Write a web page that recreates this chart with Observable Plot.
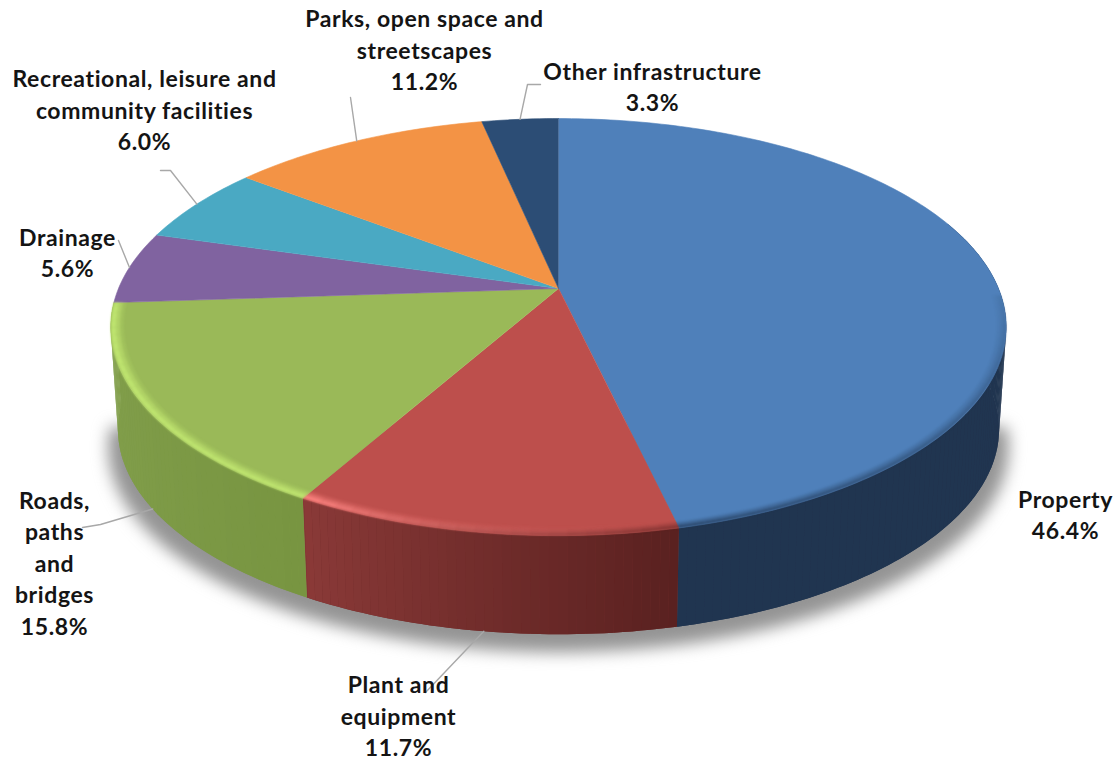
<!DOCTYPE html>
<html>
<head>
<meta charset="utf-8">
<style>
  html, body { margin: 0; padding: 0; background: #fff; overflow: hidden; }
  svg { display: block; }
</style>
<script src="https://cdn.jsdelivr.net/npm/d3@7"></script>
<script src="https://cdn.jsdelivr.net/npm/@observablehq/plot@0.6"></script>
</head>
<body>
<div id="chart"></div>
<script>
// Asset categories and their share of the total, clockwise from twelve o'clock.
const categories = [
  "Property", "Plant and equipment", "Roads, paths and bridges", "Drainage",
  "Recreational, leisure and community facilities",
  "Parks, open space and streetscapes", "Other infrastructure"
];
const shares = [46.4, 11.7, 15.8, 5.6, 6.0, 11.2, 3.3];
const labelLines = [
  ["Property"], ["Plant and", "equipment"], ["Roads,", "paths", "and", "bridges"], ["Drainage"],
  ["Recreational, leisure and", "community facilities"],
  ["Parks, open space and", "streetscapes"], ["Other infrastructure"]
];

// Slice colours: top face, then the wall at the left and right end of each slice.
const faceColors = ["#4f80ba", "#bd4f4c", "#9ab958", "#8063a0", "#4aa9c3", "#f39345", "#2c4d75"];
const wallColors = [
  ["#203550", "#1f3450"], ["#8b3a38", "#5a2120"], ["#84a14e", "#789541"], ["#6a5288"],
  ["#3a8aa0"], ["#c07030"], ["#203a5a"]
];

// Bevel along the front rim: colour, strength at each slice end, first visible degree.
const rimLight = { 1: ["#ff8582", 0, 1, 0], 2: ["#bfe570", 1, 1, 0] };
const rimShade = { 0: ["#1f3450", 0.15, 1, 92], 1: ["#5a2120", 0.8, 0, 0] };

// Layout of the text and the leader lines.
const labelPlace = [[1065, 513], [398, 714], [54, 561], [67, 251], [144, 108], [424, 48], [652, 85]];
const leaderBends = {
  1: { wall: true, via: [[425, 692]] },
  2: { wall: true, via: [[100, 524], [82, 527]] },
  3: { via: [[118, 240]] },
  4: { via: [[170, 170], [160, 170]] },
  5: { via: [[350, 97]] },
  6: { via: [[527, 84], [540, 84]] }
};

// Projection of the tilted disc: a circle seen in perspective, with the lower
// face shifted down and pulled slightly towards the vanishing point.
const view = { cx: 558, cy: 288, a: 440, b: 201.4, k: 0.185, shrink: 0.984, vanishY: 6700 };
const rad = d3.scaleLinear([0, 360], [0, 2 * Math.PI]);

function onTop(deg, r = 1) {
  const s = Math.sin(rad(deg)), c = Math.cos(rad(deg)), w = 1 + view.k * r * c;
  return [view.cx + view.a * r * s / w, view.cy - view.b * r * c / w];
}
function onBottom(deg) {
  const [x, y] = onTop(deg);
  return [view.cx + view.shrink * (x - view.cx), y + (1 - view.shrink) * (view.vanishY - y)];
}

// Slice boundaries in degrees, taken from the shares.
const total = d3.sum(shares);
const edges = d3.cumsum([0, ...shares]).map((v) => (v / total) * 360);
const slices = categories.map((name, i) => ({
  i, name, share: shares[i], from: edges[i], to: edges[i + 1], mid: (edges[i] + edges[i + 1]) / 2
}));

function sweep(from, to, step = 1) {
  const out = [];
  for (let t = from; t < to; t += step) out.push(t);
  out.push(to);
  return out;
}
const toRows = (key, points, extra = {}) => points.map(([x, y]) => ({ key, x, y, ...extra }));

// Top faces.
const faceRows = slices.flatMap((s) =>
  toRows("face" + s.i, [[view.cx, view.cy], ...sweep(s.from, s.to).map((t) => onTop(t))], { fill: faceColors[s.i] })
);

// Front wall: a solid base per slice, then narrow quads whose colour runs across it.
const wallRange = [70, 266];
const wallSlices = slices
  .map((s) => ({ ...s, lo: Math.max(s.from, wallRange[0]), hi: Math.min(s.to, wallRange[1]) }))
  .filter((s) => s.lo < s.hi);
const wallBaseRows = wallSlices.flatMap((s) => {
  const arc = sweep(s.lo, s.hi);
  return toRows("base" + s.i, [...arc.map((t) => onTop(t)), ...arc.reverse().map((t) => onBottom(t))], {
    fill: d3.interpolateLab(...wallColors[s.i])(0.5)
  });
});
const wallRows = wallSlices.flatMap((s) => {
  const tint = d3.scaleLinear([s.from, s.to], [wallColors[s.i][1], wallColors[s.i][0]]).interpolate(d3.interpolateLab);
  return sweep(s.lo, s.hi, 1).slice(0, -1).flatMap((t, n) => {
    const u = Math.min(t + 1, s.hi);
    return toRows(`wall${s.i}-${n}`, [onTop(t), onTop(u), onBottom(u), onBottom(t)], { fill: tint(t) });
  });
});

// Soft drop shadow under the front of the disc.
const shadowRows = toRows(
  "shadow",
  sweep(95, 265, 2).map((t) => {
    const [x, y] = onBottom(t);
    return [view.cx + 1.022 * (x - view.cx), y + 18];
  }),
  { fill: "#949494" }
);

// Bevel bands following the rim.
function bandRows(table, profile, name) {
  return slices.flatMap((s) => {
    const spec = table[s.i];
    if (!spec) return [];
    const start = Math.max(s.from, spec[3]);
    const strength = d3.scaleLinear([start, s.to], [spec[1], spec[2]]);
    return profile.flatMap(([r0, r1, alpha], j) =>
      sweep(start, s.to, 2).slice(0, -1).flatMap((t, n) => {
        const u = Math.min(t + 2, s.to);
        return toRows(`${name}${s.i}-${j}-${n}`, [onTop(t, r0), onTop(u, r0), onTop(u, r1), onTop(t, r1)], {
          fill: spec[0], alpha: alpha * strength((t + u) / 2)
        });
      })
    );
  });
}
const lightRows = bandRows(rimLight, [[0.972, 0.98, 0.2], [0.98, 0.988, 0.6], [0.988, 1, 0.95]], "light");
const shadeRows = bandRows(rimShade, [[0.98, 0.988, 0.25], [0.988, 0.995, 0.55], [0.995, 1, 0.9]], "shade");

// Leader lines start on the rim or wall at the middle of the slice.
const leaderRows = Object.entries(leaderBends).flatMap(([i, bend]) => {
  const s = slices[+i];
  const start = bend.wall ? onBottom(s.mid) : onTop(s.mid);
  return toRows("leader" + i, [start, ...bend.via]);
});

// Category name with the share on the last line.
const labelRows = slices.map((s) => ({
  x: labelPlace[s.i][0],
  y: labelPlace[s.i][1],
  text: [...labelLines[s.i], d3.format(".1f")(s.share) + "%"].join("\n")
}));

const polygon = (rows, options = {}) =>
  Plot.line(rows, {
    x: "x", y: "y", z: "key",
    fill: { value: "fill", scale: null },
    stroke: "none",
    ...options
  });

const chart = Plot.plot({
  width: 1120,
  height: 760,
  margin: 0,
  style: { background: "#fff", letterSpacing: "0.6px" },
  x: { domain: [0, 1120], range: [0, 1120], axis: null },
  y: { domain: [0, 760], range: [0, 760], axis: null },
  marks: [
    polygon(shadowRows, { imageFilter: "blur(8px)" }),
    polygon(wallBaseRows),
    polygon(wallRows),
    polygon(faceRows, { stroke: { value: "fill", scale: null }, strokeWidth: 0.6 }),
    polygon(lightRows, { fillOpacity: { value: "alpha", scale: null }, imageFilter: "blur(1px)" }),
    polygon(shadeRows, { fillOpacity: { value: "alpha", scale: null }, imageFilter: "blur(1px)" }),
    Plot.line(leaderRows, { x: "x", y: "y", z: "key", stroke: "#a8a8a8", strokeWidth: 1.4 }),
    Plot.text(labelRows, {
      x: "x", y: "y", text: "text",
      lineAnchor: "middle", textAnchor: "middle", lineHeight: 1.37,
      fontFamily: "Lato", fontWeight: 700, fontSize: 23, fill: "#141414"
    })
  ]
});
document.getElementById("chart").append(chart);
</script>
</body>
</html>
